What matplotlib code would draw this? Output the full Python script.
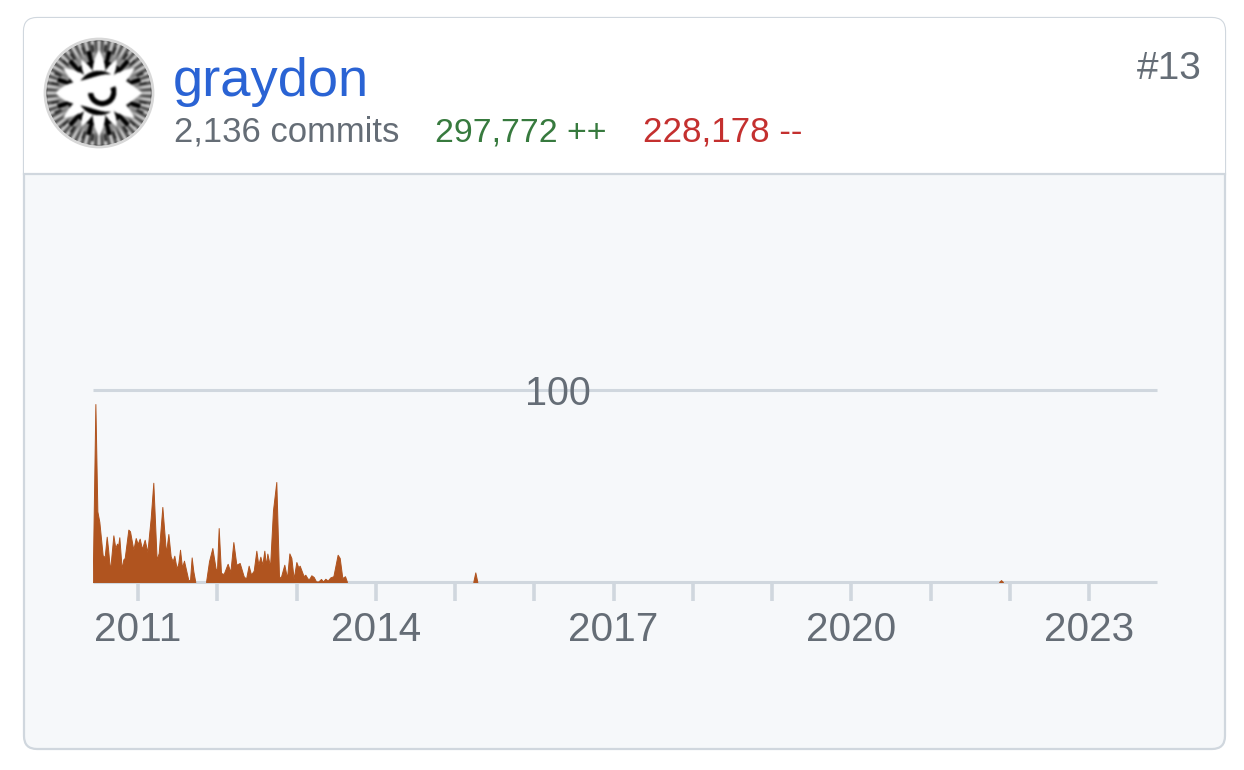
import numpy as np
import matplotlib
matplotlib.use("Agg")
import matplotlib.pyplot as plt
from matplotlib.patches import Circle, FancyBboxPatch, Rectangle

plt.rcParams['font.family'] = ['Liberation Sans', 'DejaVu Sans']

# commits per week (year as decimal, value in commits)
years = [2010.428, 2010.462, 2010.487, 2010.512, 2010.554, 2010.579, 2010.605, 2010.621, 2010.647, 2010.689,
         2010.714, 2010.735, 2010.748, 2010.764, 2010.794, 2010.815, 2010.832, 2010.878, 2010.899, 2010.941,
         2010.971, 2010.996, 2011.021, 2011.050, 2011.084, 2011.118, 2011.160, 2011.193, 2011.235, 2011.261,
         2011.307, 2011.353, 2011.383, 2011.412, 2011.437, 2011.458, 2011.488, 2011.509, 2011.530, 2011.555,
         2011.580, 2011.635, 2011.656, 2011.677, 2011.698, 2011.723, 2011.858, 2011.896, 2011.938, 2011.980,
         2011.997, 2012.018, 2012.047, 2012.081, 2012.131, 2012.165, 2012.203, 2012.241, 2012.283, 2012.333,
         2012.363, 2012.396, 2012.426, 2012.460, 2012.493, 2012.518, 2012.544, 2012.569, 2012.594, 2012.615,
         2012.632, 2012.666, 2012.703, 2012.745, 2012.779, 2012.800, 2012.846, 2012.880, 2012.910, 2012.935,
         2012.964, 2012.998, 2013.023, 2013.040, 2013.090, 2013.111, 2013.141, 2013.162, 2013.187, 2013.217,
         2013.246, 2013.276, 2013.309, 2013.334, 2013.364, 2013.393, 2013.427, 2013.465, 2013.519, 2013.545,
         2013.578, 2013.612, 2013.637, 2015.230, 2015.256, 2015.282, 2021.865, 2021.890, 2021.915]
commits = [0, 92.7, 36.8, 31.3, 13.9, 13.0, 23.6, 17.7, 5.9, 24.3,
           17.7, 20.0, 18.6, 23.3, 6.9, 11.8, 12.5, 27.3, 26.4, 16.8,
           22.9, 19.8, 22.6, 17.2, 22.0, 15.6, 33.3, 51.7, 11.6, 15.1,
           39.1, 15.1, 25.0, 13.4, 10.8, 13.7, 6.9, 9.9, 16.8, 7.6,
           11.1, 1.0, 1.0, 12.8, 5.6, 0, 0, 10.8, 17.7, 6.8,
           6.8, 28.1, 4.7, 4.2, 9.5, 5.2, 20.8, 9.0, 9.9, 3.0,
           1.7, 8.5, 3.9, 5.9, 16.3, 9.0, 13.2, 9.0, 16.3, 8.7,
           14.8, 8.1, 37.3, 52.1, 3.0, 2.1, 9.0, 2.1, 14.9, 12.5,
           1.7, 10.4, 7.6, 8.5, 3.0, 3.8, 1.7, 1.7, 3.5, 2.6,
           0.3, 0.3, 1.6, 0.3, 1.7, 0.7, 2.4, 3.0, 14.2, 12.5,
           2.1, 3.0, 0, 0, 5.0, 0, 0, 1.0, 0]
tick_years = list(range(2011, 2024))
labelled_years = [2011, 2014, 2017, 2020, 2023]

W, H = 1244, 770
GRID = '#d0d7de'
GREY = '#656d76'


def avatar_image(n=216):
    # rough copy of the user's picture: white lens, black branches, grey fringe
    y, x = np.mgrid[-1:1:n * 1j, -1:1:n * 1j]
    r = np.hypot(x, y)
    th = np.arctan2(y, x)

    def dist(a):
        return np.abs(np.angle(np.exp(1j * (th - np.deg2rad(a)))))

    # grey fringe with fine radial streaks
    img = 0.55 + 0.3 * np.cos(48 * th) * np.clip((r - 0.7) / 0.15, 0, 1)
    # black body
    img = np.where(r < 0.62, 0.0, img)
    # white wedges pointing outwards
    for a in (90, 270, 35, 145, 215, 325, 62, 118, 242, 298):
        reach = 0.82 if a in (90, 270, 35, 145, 215, 325) else 0.72
        w = np.deg2rad(np.clip((reach - r) * 42, 0, 15))
        img = np.where((r > 0.42) & (dist(a) < w), 1.0, img)
    # black forks between the wedges
    for a in (76, 104, 256, 284, 48, 132, 228, 312, 18, 162, 198, 342):
        img = np.where((r >= 0.55) & (r < 0.82) & (dist(a) < np.deg2rad(3.2)), 0.0, img)
        for off in (-6, 6):
            img = np.where((r >= 0.78) & (r < 0.92) & (dist(a + off) < np.deg2rad(1.5)), 0.15, img)
    # central lens and the hook inside it
    lens = np.abs(y) < (0.33 + 0.05 * np.sin(5 * x)) * np.clip(1 - (x / 0.82) ** 2, 0, 1) ** 0.9
    img = np.where(lens, 1.0, img)
    hook = (np.abs(np.hypot(x - 0.06, y + 0.02) - 0.22) < 0.05) & (th > -0.4) & (th < 3.4)
    img = np.where(hook, 0.0, img)
    # blur a little, the reference is a scaled-up small picture
    kernel = np.ones(5) / 5
    for _ in range(2):
        img = np.apply_along_axis(lambda v: np.convolve(v, kernel, mode='same'), 0, img)
        img = np.apply_along_axis(lambda v: np.convolve(v, kernel, mode='same'), 1, img)
    return img


fig = plt.figure(figsize=(W / 100, H / 100), dpi=100, facecolor='white')

# card and text live in an overlay using pixel coordinates
bg = fig.add_axes([0, 0, 1, 1])
bg.axis('off')

card = FancyBboxPatch((24, 18), 1201, 731, boxstyle='round,pad=0,rounding_size=13',
                      fc='#f6f8fa', ec=GRID, lw=1.6)
bg.add_patch(card)
header = Rectangle((24, 18), 1201, 155, fc='white', ec='none')
bg.add_patch(header)
header.set_clip_path(card)
bg.plot([24, 1225], [173.5, 173.5], color=GRID, lw=1.6)

cx, cy = 99, 93
im = bg.imshow(avatar_image(), cmap='gray', vmin=0, vmax=1, aspect='auto',
               extent=(cx - 53, cx + 53, cy + 53, cy - 53), zorder=2)
im.set_clip_path(Circle((cx, cy), 53, transform=bg.transData))
bg.add_patch(Circle((cx, cy), 54, fc='none', ec='#d8d8d8', lw=2, zorder=3))
bg.set_xlim(0, W)
bg.set_ylim(H, 0)

bg.text(173, 96, 'graydon', fontsize=39.2, color='#2a63d4', va='baseline', ha='left')
bg.text(174, 142, '2,136 commits', fontsize=24.9, color=GREY, va='baseline', ha='left')
bg.text(435, 142, '297,772 ++', fontsize=24.4, color='#377a3e', va='baseline', ha='left')
bg.text(643, 142, '228,178 --', fontsize=25.2, color='#c4302f', va='baseline', ha='left')
bg.text(1202, 79, '#13', fontsize=28, color=GREY, va='baseline', ha='right')

# chart
ax = fig.add_axes([93 / W, 1 - 582 / H, (1157 - 93) / W, 192 / H])
ax.patch.set_visible(False)
ax.set_xlim(2010.432, 2023.858)
ax.set_ylim(0, 100)
for s in ('top', 'left', 'right'):
    ax.spines[s].set_visible(False)
ax.spines['bottom'].set_color(GRID)
ax.spines['bottom'].set_linewidth(2.2)
ax.spines['bottom'].set_capstyle('butt')
ax.axhline(100, color=GRID, lw=2.2, clip_on=False, solid_capstyle='butt')

# one fill per burst of activity so the edge doesn't run along the idle years
x_arr, y_arr = np.array(years), np.array(commits)
breaks = np.where((y_arr[:-1] == 0) & (y_arr[1:] == 0))[0] + 1
for xs, ys in zip(np.split(x_arr, breaks), np.split(y_arr, breaks)):
    ax.fill_between(xs, ys, 0, fc='#b0541f', ec='#b0541f', lw=0.7, zorder=3)

ax.set_yticks([])
ax.set_xticks(tick_years)
ax.set_xticklabels([str(y) if y in labelled_years else '' for y in tick_years], fontsize=29.2, color=GREY)
ax.tick_params(axis='x', length=14, width=2.6, color=GRID, pad=7)
ax.text(0.437, 100, '100', transform=ax.get_yaxis_transform(), fontsize=28.5, color=GREY,
        ha='center', va='center_baseline', zorder=5)

fig.savefig('out.png', dpi=100)
